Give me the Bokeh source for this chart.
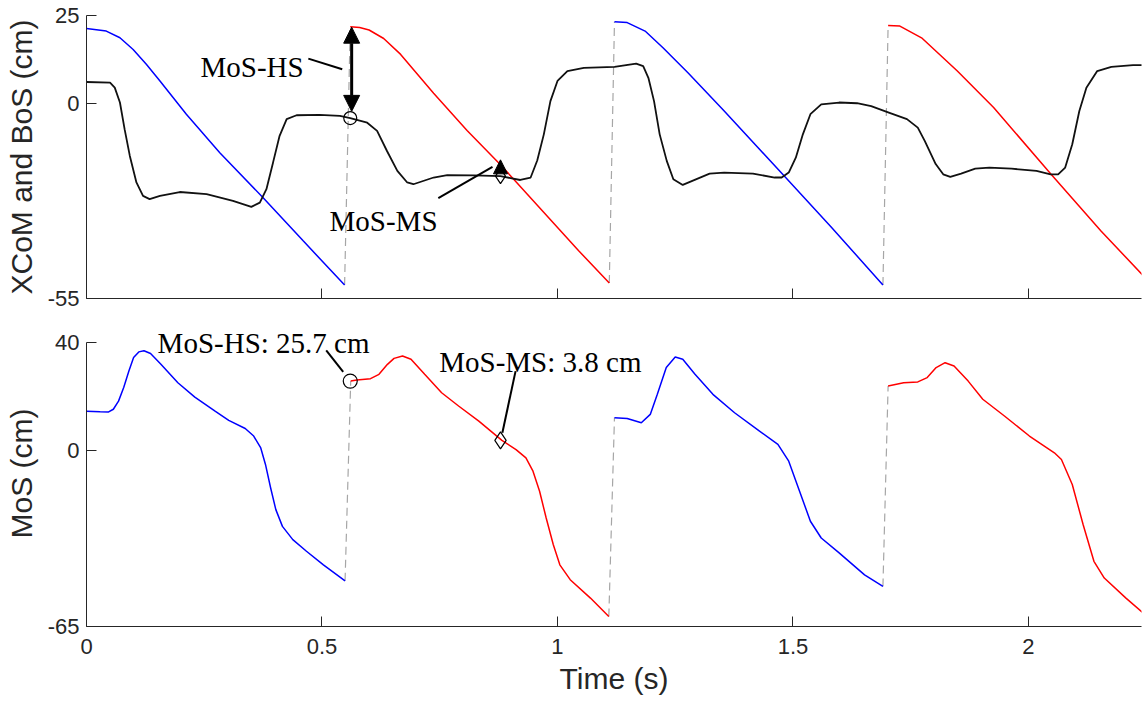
from bokeh.plotting import figure
from bokeh.layouts import column
from bokeh.models import (Range1d, FixedTicker, NumeralTickFormatter, Arrow, NormalHead, Label,
                          CustomJSTickFormatter)
from bokeh.embed import file_html
from bokeh.resources import INLINE

# ---------------- data ----------------
# XCoM (black) in top panel
xcom_t = [0.0, 0.050, 0.060, 0.071, 0.081, 0.092, 0.106, 0.120, 0.134, 0.156, 0.198, 0.255,
          0.311, 0.350, 0.368, 0.382, 0.396, 0.410, 0.425, 0.446, 0.495, 0.538, 0.560, 0.596,
          0.617, 0.638, 0.660, 0.681, 0.694, 0.737, 0.766, 0.822, 0.879, 0.921, 0.943, 0.957,
          0.971, 0.985, 1.000, 1.021, 1.056, 1.121, 1.167, 1.182, 1.193, 1.205, 1.217, 1.232,
          1.246, 1.266, 1.285, 1.323, 1.354, 1.415, 1.461, 1.476, 1.491, 1.506, 1.521, 1.537,
          1.560, 1.598, 1.636, 1.666, 1.705, 1.742, 1.765, 1.780, 1.803, 1.819, 1.834, 1.857,
          1.887, 1.917, 1.964, 2.017, 2.047, 2.063, 2.078, 2.093, 2.108, 2.123, 2.146, 2.176,
          2.222, 2.244]
xcom_v = [6.2, 6.0, 4.6, 0.4, -7.2, -14.7, -22.2, -26.0, -26.9, -26.0, -24.9, -25.5,
          -27.4, -29.1, -27.9, -24.1, -16.6, -9.0, -4.3, -3.2, -3.1, -3.4, -4.0, -5.3,
          -7.6, -13.3, -18.9, -22.2, -22.7, -20.8, -20.1, -20.2, -20.4, -21.5, -20.8, -16.0,
          -8.6, 0.8, 6.5, 9.3, 10.2, 10.5, 11.4, 10.7, 7.4, 0.8, -8.6, -16.1,
          -21.3, -22.9, -21.8, -19.7, -19.4, -19.7, -20.8, -20.8, -19.4, -15.2, -8.6, -2.9,
          -0.1, 0.4, 0.2, -0.6, -2.5, -4.3, -6.7, -10.5, -17.0, -19.9, -20.6, -19.7,
          -18.3, -18.0, -18.3, -18.9, -19.9, -19.9, -18.0, -11.4, -2.0, 4.6, 9.3, 10.5,
          11.0, 11.0]

# BoS segments (top panel)
bos_blue1_t = [0.0, 0.042, 0.071, 0.099, 0.127, 0.156, 0.212, 0.283, 0.375, 0.460, 0.548]
bos_blue1_v = [21.3, 20.6, 18.7, 15.4, 11.2, 6.5, -2.9, -13.8, -26.5, -38.7, -51.2]
bos_red1_t = [0.560, 0.580, 0.600, 0.631, 0.667, 0.737, 0.808, 0.879, 0.907, 1.045, 1.110]
bos_red1_v = [21.8, 21.6, 20.9, 18.5, 14.0, 3.0, -7.5, -17.2, -21.3, -41.5, -50.6]
bos_blue2_t = [1.121, 1.148, 1.186, 1.224, 1.277, 1.354, 1.483, 1.582, 1.691]
bos_blue2_v = [23.2, 23.0, 20.6, 15.9, 8.8, -2.0, -20.6, -34.9, -51.2]
bos_red2_t = [1.702, 1.727, 1.773, 1.849, 1.926, 2.048, 2.154, 2.244]
bos_red2_v = [22.2, 22.0, 18.7, 9.3, -1.0, -19.9, -35.9, -48.6]

# MoS segments (bottom panel)
mos_blue1_t = [0.0, 0.029, 0.047, 0.057, 0.068, 0.079, 0.090, 0.100, 0.111, 0.122, 0.136,
               0.158, 0.194, 0.230, 0.273, 0.302, 0.337, 0.355, 0.370, 0.380, 0.391, 0.402,
               0.416, 0.438, 0.467, 0.503, 0.549]
mos_blue1_v = [14.6, 14.4, 14.3, 15.3, 18.3, 23.3, 29.4, 34.4, 36.5, 36.9, 35.9,
               31.9, 25.1, 19.8, 14.6, 11.2, 8.2, 5.4, 1.0, -5.1, -13.8, -21.8,
               -28.0, -32.9, -37.2, -42.2, -48.1]
mos_red1_t = [0.561, 0.574, 0.603, 0.621, 0.639, 0.653, 0.671, 0.689, 0.718, 0.754, 0.790,
              0.833, 0.882, 0.912, 0.933, 0.948, 0.962, 0.976, 0.991, 1.005, 1.027, 1.070, 1.109]
mos_red1_v = [25.7, 26.1, 26.6, 28.2, 31.9, 34.1, 35.0, 33.8, 28.2, 21.4, 16.5,
              10.9, 3.8, 0.4, -2.7, -7.6, -15.0, -24.9, -34.7, -42.2, -47.7, -54.5, -61.3]
mos_blue2_t = [1.121, 1.148, 1.178, 1.197, 1.212, 1.231, 1.250, 1.266, 1.292, 1.330, 1.376,
               1.429, 1.468, 1.491, 1.514, 1.537, 1.560, 1.598, 1.652, 1.691]
mos_blue2_v = [12.2, 11.9, 10.3, 13.4, 20.8, 30.7, 34.6, 33.8, 28.2, 20.8, 14.0,
               7.2, 2.3, -3.9, -15.0, -26.1, -32.3, -37.8, -45.9, -50.2]
mos_red2_t = [1.702, 1.735, 1.765, 1.785, 1.804, 1.823, 1.842, 1.872, 1.903, 1.949, 2.002,
              2.055, 2.070, 2.093, 2.116, 2.139, 2.161, 2.207, 2.244]
mos_red2_v = [23.9, 25.1, 25.4, 27.0, 30.7, 32.5, 31.3, 25.7, 19.0, 12.8, 5.4,
              -0.8, -3.3, -12.5, -27.3, -40.9, -47.1, -54.5, -60.1]

# Event values
hs_time = 0.560
ms_time = 0.879
xcom_hs = -4.0
xcom_ms = -20.4
mos_hs = 25.7
mos_ms = 3.8

x_ticks = [0, 0.5, 1, 1.5, 2]
top_y_ticks = [-55, 0, 25]
bot_y_ticks = [-65, 0, 40]

BLUE = "#0000FF"
RED = "#FF0000"
AXC = "#262626"
DASH = "#a6a6a6"
SERIF = "Liberation Serif"
SANS = "Liberation Sans"


def style(p, yticks, show_x_labels):
    p.xgrid.visible = False
    p.ygrid.visible = False
    p.outline_line_color = None
    p.background_fill_color = "white"
    p.border_fill_color = "white"
    p.xaxis.ticker = FixedTicker(ticks=x_ticks)
    p.yaxis.ticker = FixedTicker(ticks=yticks)
    for ax in p.xaxis + p.yaxis:
        ax.formatter = NumeralTickFormatter(format="0.[0]")
        ax.axis_line_color = AXC
        ax.axis_line_width = 1
        ax.major_tick_line_color = AXC
        ax.major_tick_in = 10
        ax.major_tick_out = 0
        ax.minor_tick_line_color = None
        ax.major_label_text_font = SANS
        ax.major_label_text_font_size = "22px"
        ax.major_label_text_color = AXC
        ax.axis_label_text_font = SANS
        ax.axis_label_text_font_size = "30px"
        ax.axis_label_text_font_style = "normal"
        ax.axis_label_text_color = AXC
    for ax in p.yaxis:
        ax.major_label_standoff = 7
        ax.axis_label_standoff = 7
    for ax in p.xaxis:
        if show_x_labels:
            ax.major_label_standoff = 12
            ax.axis_label_standoff = 5
        else:
            ax.formatter = CustomJSTickFormatter(code="return '';")
            ax.major_label_text_font_size = "1px"
            ax.major_label_standoff = 0


# ---------------- top panel ----------------
p1 = figure(width=1143, height=320, x_range=Range1d(0, 2.24), y_range=Range1d(-55, 25),
            output_backend="svg", toolbar_location=None,
            min_border_left=86, min_border_right=2, min_border_top=15, min_border_bottom=22)
p1.yaxis.axis_label = "XCoM and BoS (cm)"
style(p1, top_y_ticks, False)

segs = [(bos_blue1_t, bos_blue1_v, BLUE), (bos_red1_t, bos_red1_v, RED),
        (bos_blue2_t, bos_blue2_v, BLUE), (bos_red2_t, bos_red2_v, RED)]
for i in range(len(segs) - 1):
    a, b = segs[i], segs[i + 1]
    p1.line([a[0][-1], b[0][0]], [a[1][-1], b[1][0]], line_color=DASH, line_width=1.2,
            line_dash="8 5")
for t, v, c in segs:
    p1.line(t, v, line_color=c, line_width=1.5)
p1.line(xcom_t, xcom_v, line_color="#111111", line_width=1.8)

p1.scatter([hs_time], [xcom_hs], marker="circle", size=13, fill_color=None,
           line_color="black", line_width=1.2)
p1.scatter([ms_time], [xcom_ms], marker="diamond", size=15, fill_color=None,
           line_color="black", line_width=1.2)

p1.add_layout(Arrow(x_start=hs_time + 0.003, y_start=xcom_hs + 1.9,
                    x_end=hs_time + 0.003, y_end=xcom_hs + mos_hs,
                    line_width=3, line_color="black",
                    start=NormalHead(size=16, fill_color="black", line_color="black"),
                    end=NormalHead(size=16, fill_color="black", line_color="black")))
p1.add_layout(Arrow(x_start=ms_time, y_start=xcom_ms + 1.5,
                    x_end=ms_time, y_end=xcom_ms + mos_ms + 0.8,
                    line_width=2, line_color="black",
                    end=NormalHead(size=14, fill_color="black", line_color="black")))

p1.segment(x0=[0.471, 0.747], y0=[12.8, -26.6], x1=[0.543, 0.862], y1=[9.8, -17.8],
           line_color="black", line_width=2)
p1.add_layout(Label(x=0.461, y=10.5, text="MoS-HS", text_align="right",
                    text_baseline="alphabetic", text_font=SERIF, text_font_size="29px",
                    text_color="black"))
p1.add_layout(Label(x=0.516, y=-33.1, text="MoS-MS", text_align="left",
                    text_baseline="alphabetic", text_font=SERIF, text_font_size="29px",
                    text_color="black"))

# ---------------- bottom panel ----------------
# frame reaches above 40 so that the upper annotation is not clipped; axis stops at 40
p2 = figure(width=1143, height=381, x_range=Range1d(0, 2.24), y_range=Range1d(-65, 48.1),
            output_backend="svg", toolbar_location=None,
            min_border_left=86, min_border_right=2, min_border_top=0, min_border_bottom=75)
p2.yaxis.axis_label = "MoS (cm)"
p2.xaxis.axis_label = "Time (s)"
style(p2, bot_y_ticks, True)
p2.yaxis.bounds = (bot_y_ticks[0], bot_y_ticks[-1])

msegs = [(mos_blue1_t, mos_blue1_v, BLUE), (mos_red1_t, mos_red1_v, RED),
         (mos_blue2_t, mos_blue2_v, BLUE), (mos_red2_t, mos_red2_v, RED)]
for i in range(len(msegs) - 1):
    a, b = msegs[i], msegs[i + 1]
    p2.line([a[0][-1], b[0][0]], [a[1][-1], b[1][0]], line_color=DASH, line_width=1.2,
            line_dash="8 5")
for t, v, c in msegs:
    p2.line(t, v, line_color=c, line_width=1.5)

p2.scatter([hs_time], [mos_hs], marker="circle", size=14, fill_color=None,
           line_color="black", line_width=1.2)
p2.scatter([ms_time], [mos_ms], marker="diamond", size=17, fill_color=None,
           line_color="black", line_width=1.2)
p2.segment(x0=[0.509, 0.911], y0=[37.1, 29.4], x1=[0.545, 0.883], y1=[29.1, 6.6],
           line_color="black", line_width=2)
p2.add_layout(Label(x=0.151, y=39.9, text="MoS-HS: %.1f cm" % mos_hs, text_align="left",
                    text_baseline="alphabetic", text_font=SERIF, text_font_size="29px",
                    text_color="black"))
p2.add_layout(Label(x=0.749, y=32.9, text="MoS-MS: %.1f cm" % mos_ms, text_align="left",
                    text_baseline="alphabetic", text_font=SERIF, text_font_size="29px",
                    text_color="black"))

layout = column(p1, p2, spacing=0)
open("out.html", "w").write(file_html(layout, INLINE))
